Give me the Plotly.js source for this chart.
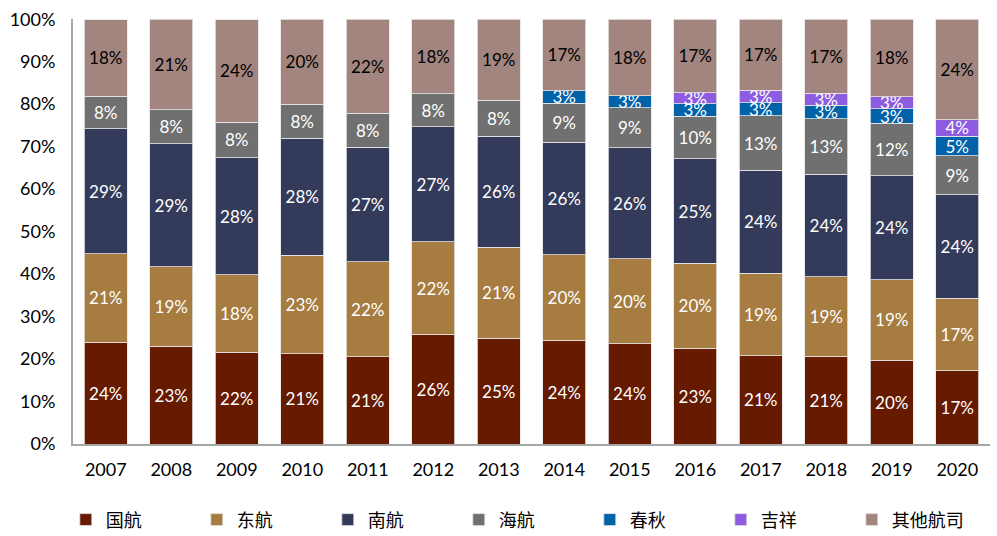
<!DOCTYPE html>
<html>
<head>
<meta charset="utf-8">
<script src="https://cdn.plot.ly/plotly-3.0.1.min.js"></script>
<style>html,body{margin:0;padding:0;background:#fff;}#chart{width:997px;height:536px;}</style>
</head>
<body>
<div id="chart"></div>
<script>
const years = ['2007','2008','2009','2010','2011','2012','2013','2014','2015','2016','2017','2018','2019','2020'];
const guohang = [24.0, 23.0, 21.6, 21.2, 20.5, 25.8, 24.9, 24.4, 23.6, 22.6, 20.8, 20.6, 19.7, 17.2];
const donghang = [20.8, 18.7, 18.2, 23.2, 22.4, 21.8, 21.4, 20.2, 20.0, 19.9, 19.4, 18.8, 19.0, 17.1];
const nanhang = [29.4, 29.0, 27.6, 27.6, 27.0, 27.1, 26.2, 26.4, 26.2, 24.7, 24.2, 24.1, 24.4, 24.4];
const haihang = [7.7, 8.0, 8.4, 8.0, 8.0, 7.8, 8.4, 9.2, 9.3, 10.0, 12.9, 13.1, 12.4, 9.1];
const chunqiu = [null, null, null, null, null, null, null, 3.0, 2.9, 2.9, 3.0, 3.2, 3.4, 4.7];
const jixiang = [null, null, null, null, null, null, null, null, null, 2.6, 3.0, 2.8, 2.9, 3.8];
const others = [18.0, 21.3, 24.1, 20.0, 22.1, 17.5, 19.1, 16.8, 18.0, 17.3, 16.7, 17.4, 18.2, 23.7];
const yTickVals = [0,10,20,30,40,50,60,70,80,90,100];
const yTickText = ['0%','10%','20%','30%','40%','50%','60%','70%','80%','90%','100%'];

const seriesDefs = [
  {name:'国航', data:guohang, color:'#661A00', tc:'#ffffff'},
  {name:'东航', data:donghang, color:'#A67C40', tc:'#ffffff'},
  {name:'南航', data:nanhang, color:'#343B5A', tc:'#ffffff'},
  {name:'海航', data:haihang, color:'#707070', tc:'#ffffff'},
  {name:'春秋', data:chunqiu, color:'#0062A8', tc:'#ffffff'},
  {name:'吉祥', data:jixiang, color:'#8E5CE0', tc:'#ffffff'},
  {name:'其他航司', data:others, color:'#A2857F', tc:'#000000'}
];

const traces = seriesDefs.map(s => ({
  type:'bar',
  name:s.name,
  x:years,
  y:s.data,
  text:s.data.map(v => v == null ? '' : Math.round(v) + '%'),
  texttemplate:'%{text}',
  textposition:'inside',
  insidetextanchor:'middle',
  constraintext:'none',
  cliponaxis:false,
  textfont:{family:'Lato, "Open Sans", sans-serif', size:17, color:s.tc},
  marker:{color:s.color, line:{color:'rgba(230,230,230,0.8)', width:1}},
  hoverinfo:'skip'
}));

const layout = {
  width:997, height:536,
  margin:{l:73, r:7, t:19, b:92, autoexpand:false},
  barmode:'stack',
  bargap:0.34,
  paper_bgcolor:'#ffffff',
  plot_bgcolor:'#ffffff',
  font:{family:'Lato, "Open Sans", sans-serif', size:18, color:'#000'},
  xaxis:{
    type:'category',
    showgrid:false,
    showline:true, linecolor:'#a6a6a6', linewidth:2,
    ticks:'', tickfont:{size:18, color:'#000'},
    ticklabelstandoff:8,
    zeroline:false
  },
  yaxis:{
    range:[0,100.05],
    tickvals:yTickVals, ticktext:yTickText,
    showgrid:false, zeroline:false,
    showline:true, linecolor:'#a6a6a6', linewidth:2,
    ticks:'', ticklen:0,
    ticklabelstandoff:12,
    tickfont:{size:18, color:'#000'}
  },
  showlegend:true,
  legend:{
    orientation:'h',
    traceorder:'normal',
    xref:'container', yref:'container',
    x:0.066, xanchor:'left',
    y:0.03, yanchor:'middle',
    entrywidth:86,
    font:{family:'"Noto Sans CJK SC", sans-serif', size:18, color:'#000'},
    itemwidth:30
  }
};

Plotly.newPlot('chart', traces, layout, {displayModeBar:false, staticPlot:true});
</script>
</body>
</html>
